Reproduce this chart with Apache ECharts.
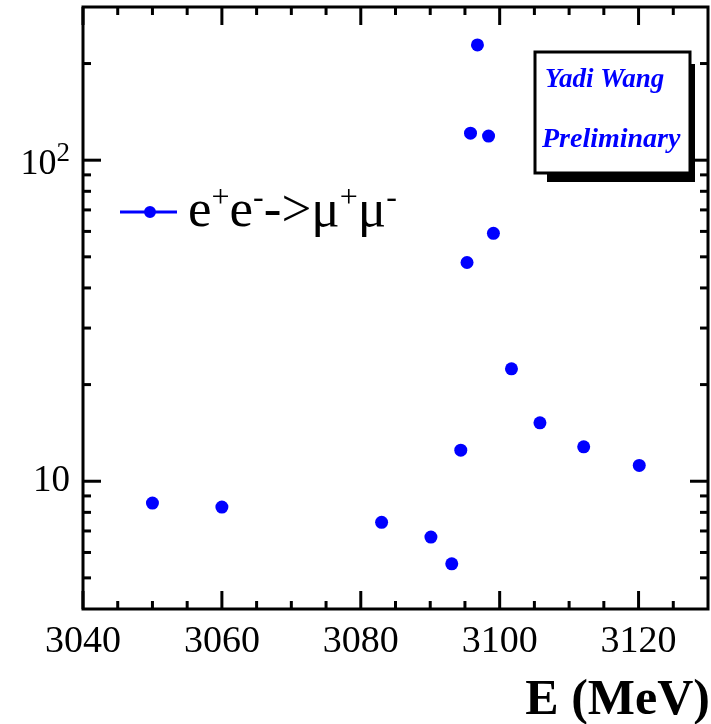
<!DOCTYPE html>
<html>
<head>
<meta charset="utf-8">
<script src="https://cdn.jsdelivr.net/npm/echarts@6/dist/echarts.min.js"></script>
<style>
  html, body { margin: 0; padding: 0; background: #fff; }
  #chart { width: 711px; height: 724px; }
</style>
</head>
<body>
<div id="chart"></div>
<script>
// Scan energies (MeV) and measured values for e+e- -> mu+mu-
const energy = [3050.0, 3060.0, 3083.0, 3090.1, 3093.1, 3094.4, 3095.3, 3095.8,
                3096.8, 3098.4, 3099.1, 3101.7, 3105.8, 3112.1, 3120.1];
const yieldValues = [8.55, 8.31, 7.45, 6.70, 5.53, 12.5, 48.0, 121.4,
                     228.6, 118.9, 59.2, 22.4, 15.2, 12.8, 11.2];

// Axis ranges and tick positions
const X_MIN = 3040, X_MAX = 3130;
const Y_MIN = 4, Y_MAX = 300;
const xMajorTicks = [3040, 3060, 3080, 3100, 3120];
const xMinorTicks = [3045, 3050, 3055, 3065, 3070, 3075, 3085, 3090, 3095,
                     3105, 3110, 3115, 3125];
const yMajorTicks = [10, 100];
const yMinorTicks = [5, 6, 7, 8, 9, 20, 30, 40, 50, 60, 70, 80, 90, 200];

const SERIF = '"Liberation Serif", "Times New Roman", serif';
const BLUE = '#0000ff';

// Inward ticks on both sides of the frame, placed through the axis scales
function tickSeries(values, dir, len) {
  return {
    type: 'custom',
    silent: true,
    clip: false,
    z: 5,
    data: values.map(v => dir === 'x' ? [v, Y_MIN] : [X_MIN, v]),
    renderItem: function (params, api) {
      const style = { stroke: '#000', lineWidth: 3 };
      if (dir === 'x') {
        const v = api.value(0);
        const lo = api.coord([v, Y_MIN]);
        const hi = api.coord([v, Y_MAX]);
        return { type: 'group', children: [
          { type: 'line', shape: { x1: lo[0], y1: lo[1], x2: lo[0], y2: lo[1] - len }, style },
          { type: 'line', shape: { x1: hi[0], y1: hi[1], x2: hi[0], y2: hi[1] + len }, style }
        ]};
      }
      const v = api.value(1);
      const l = api.coord([X_MIN, v]);
      const r = api.coord([X_MAX, v]);
      return { type: 'group', children: [
        { type: 'line', shape: { x1: l[0], y1: l[1], x2: l[0] + len, y2: l[1] }, style },
        { type: 'line', shape: { x1: r[0], y1: r[1], x2: r[0] - len, y2: r[1] }, style }
      ]};
    }
  };
}

const isPow = (v, p) => Math.abs(Math.log10(v) - p) < 1e-6;

const chart = echarts.init(document.getElementById('chart'), null, { renderer: 'canvas' });

chart.setOption({
  animation: false,
  backgroundColor: '#fff',
  grid: {
    left: 83, top: 7, right: 3, bottom: 115,
    outerBoundsMode: 'none',
    containLabel: false,
    show: true, borderColor: '#000', borderWidth: 3, backgroundColor: 'transparent'
  },
  xAxis: {
    type: 'value',
    min: X_MIN, max: X_MAX, interval: 20,
    axisLine: { show: false },
    axisTick: { show: false },
    splitLine: { show: false },
    axisLabel: {
      fontFamily: SERIF, fontSize: 38, color: '#000', margin: 14,
      showMaxLabel: false,
      formatter: v => xMajorTicks.includes(v) ? String(v) : ''
    },
    name: 'E (MeV)',
    nameLocation: 'end',
    nameGap: 2,
    nameTextStyle: {
      fontFamily: SERIF, fontWeight: 'bold', fontSize: 50, color: '#000',
      align: 'right', verticalAlign: 'top', padding: [67, 0, 0, 0]
    }
  },
  yAxis: {
    type: 'log',
    logBase: 10,
    min: Y_MIN, max: Y_MAX,
    axisLine: { show: false },
    axisTick: { show: false },
    splitLine: { show: false },
    axisLabel: {
      margin: 13,
      showMinLabel: false, showMaxLabel: false,
      formatter: v => isPow(v, 1) ? '{n|10}' : (isPow(v, 2) ? '{m|10}{s|2}' : ''),
      rich: {
        n: { fontFamily: SERIF, fontSize: 37, color: '#000', lineHeight: 40 },
        m: { fontFamily: SERIF, fontSize: 36, color: '#000', lineHeight: 40, padding: [8, 0, 0, 0] },
        s: { fontFamily: SERIF, fontSize: 27, color: '#000', verticalAlign: 'top', lineHeight: 27 }
      }
    }
  },
  legend: {
    left: 120, top: 183,
    padding: 0,
    data: ['eemumu'],
    itemWidth: 57, itemHeight: 14,
    icon: 'path://M0,5.5 H57 V8.5 H0 Z M24,7 A6,6 0 1,1 36,7 A6,6 0 1,1 24,7 Z',
    formatter: () => '{n|e}{s|+}{n|e}{s|-}{n|->μ}{s|+}{n|μ}{s|-}',
    textStyle: {
      padding: [0, 0, 0, 6],
      rich: {
        n: { fontFamily: SERIF, fontSize: 53, color: '#000', lineHeight: 58 },
        s: { fontFamily: SERIF, fontSize: 32, color: '#000', verticalAlign: 'top', lineHeight: 34 }
      }
    }
  },
  graphic: [
    { type: 'rect', shape: { x: 547, y: 64, width: 148, height: 118 },
      style: { fill: '#000' }, z: 10 },
    { type: 'rect', shape: { x: 535, y: 52, width: 155, height: 121 },
      style: { fill: '#fff', stroke: '#000', lineWidth: 3 }, z: 11 },
    { type: 'text', x: 545, y: 80, z: 12,
      style: { text: 'Yadi Wang', fill: BLUE, font: 'italic bold 27px ' + SERIF,
               textVerticalAlign: 'middle', verticalAlign: 'middle' } },
    { type: 'text', x: 542, y: 140, z: 12,
      style: { text: 'Preliminary', fill: BLUE, font: 'italic bold 28px ' + SERIF,
               textVerticalAlign: 'middle', verticalAlign: 'middle' } }
  ],
  series: [
    {
      name: 'eemumu',
      type: 'scatter',
      symbol: 'circle',
      symbolSize: 13,
      itemStyle: { color: BLUE, opacity: 1 },
      z: 6,
      data: energy.map((e, i) => [e, yieldValues[i]])
    },
    tickSeries(xMajorTicks, 'x', 18),
    tickSeries(xMinorTicks, 'x', 8),
    tickSeries(yMajorTicks, 'y', 18),
    tickSeries(yMinorTicks, 'y', 8)
  ]
});
</script>
</body>
</html>
